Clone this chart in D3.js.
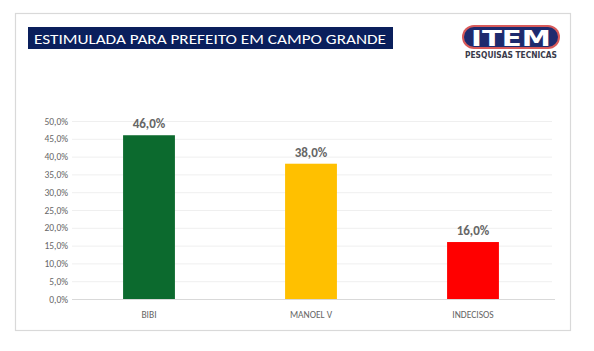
<!DOCTYPE html>
<html>
<head>
<meta charset="utf-8">
<script src="https://cdn.jsdelivr.net/npm/d3@7"></script>
<style>
  html, body { margin: 0; padding: 0; background: #fff; }
  svg { display: block; font-family: Calibri, Carlito, "Open Sans", sans-serif; }
</style>
</head>
<body>
<div id="chart"></div>
<script>
// Dados do gráfico
const categories = ['BIBI', 'MANOEL V', 'INDECISOS'];
const values     = [46.0, 38.0, 16.0];
const barColors  = ['#0c6a2e', '#ffc000', '#ff0000'];
const yTicks     = [0, 5, 10, 15, 20, 25, 30, 35, 40, 45, 50];
const title      = 'ESTIMULADA PARA PREFEITO EM CAMPO GRANDE';

const W = 594, H = 351;
const fmt = v => d3.format('.1f')(v).replace('.', ',') + '%';

const svg = d3.select('#chart').append('svg')
    .attr('width', W).attr('height', H);

// moldura
svg.append('rect')
    .attr('x', 15.5).attr('y', 13.5).attr('width', 555).attr('height', 317)
    .attr('fill', '#fff').attr('stroke', '#d9d9d9').attr('stroke-width', 1.2);

// título
svg.append('rect')
    .attr('x', 28).attr('y', 27).attr('width', 365).attr('height', 22)
    .attr('fill', '#0a1f5c');
svg.append('text')
    .attr('x', 34).attr('y', 43.5)
    .attr('fill', '#fff').attr('font-size', 15)
    .attr('textLength', 352).attr('lengthAdjust', 'spacingAndGlyphs')
    .text(title);

// logo ITEM
const logo = svg.append('g').attr('transform', 'translate(462,25)');
logo.append('rect')
    .attr('x', 0).attr('y', 0).attr('width', 98).attr('height', 24).attr('rx', 12)
    .attr('fill', '#d85a5a');
logo.append('rect')
    .attr('x', 2).attr('y', 2).attr('width', 94).attr('height', 20).attr('rx', 10)
    .attr('fill', '#1e2a6e');
logo.append('text')
    .attr('x', 49).attr('y', 20.5)
    .attr('text-anchor', 'middle').attr('fill', '#fff')
    .attr('font-family', '"DejaVu Sans", sans-serif').attr('font-weight', 'bold')
    .attr('font-size', 22).attr('textLength', 80).attr('lengthAdjust', 'spacingAndGlyphs')
    .text('ITEM');
logo.append('text')
    .attr('x', 49).attr('y', 33)
    .attr('text-anchor', 'middle').attr('fill', '#3a3a4a')
    .attr('font-family', '"DejaVu Sans Condensed", "DejaVu Sans", sans-serif').attr('font-weight', 'bold')
    .attr('font-size', 8.5).attr('textLength', 92).attr('lengthAdjust', 'spacingAndGlyphs')
    .text('PESQUISAS TECNICAS');

// escalas
const x = d3.scaleBand().domain(categories).range([68, 554]).paddingInner(0.68).paddingOuter(0.34);
const y = d3.scaleLinear().domain([0, 50]).range([299, 121]);

// grade
svg.append('g')
    .selectAll('line').data(yTicks.slice(1)).join('line')
    .attr('x1', 72).attr('x2', 552)
    .attr('y1', d => y(d) + 0.5).attr('y2', d => y(d) + 0.5)
    .attr('stroke', '#efefef').attr('stroke-width', 1);

// eixo y
const yAxis = svg.append('g')
    .attr('transform', 'translate(68,0)')
    .call(d3.axisLeft(y).tickValues(yTicks).tickFormat(fmt).tickSize(0).tickPadding(0));
yAxis.select('.domain').remove();
yAxis.selectAll('text')
    .attr('fill', '#666').attr('font-size', 9.5)
    .attr('font-family', 'Calibri, Carlito, "Open Sans", sans-serif');

// barras
svg.append('g')
    .selectAll('rect').data(values).join('rect')
    .attr('x', (d, i) => x(categories[i]))
    .attr('y', d => y(d))
    .attr('width', x.bandwidth())
    .attr('height', d => y(0) - y(d))
    .attr('fill', (d, i) => barColors[i]);

// linha base
svg.append('line')
    .attr('x1', 72).attr('x2', 555)
    .attr('y1', y(0) + 0.5).attr('y2', y(0) + 0.5)
    .attr('stroke', '#d9d9d9').attr('stroke-width', 1);

// rótulos de valor
svg.append('g')
    .selectAll('text').data(values).join('text')
    .attr('x', (d, i) => x(categories[i]) + x.bandwidth() / 2)
    .attr('y', d => y(d) - 7)
    .attr('text-anchor', 'middle')
    .attr('fill', '#666').attr('font-size', 13).attr('font-weight', 600)
    .text(fmt);

// eixo x
const xAxis = svg.append('g')
    .attr('transform', `translate(0,${y(0)})`)
    .call(d3.axisBottom(x).tickSize(0).tickPadding(12));
xAxis.select('.domain').remove();
xAxis.selectAll('text')
    .attr('fill', '#666').attr('font-size', 9.5)
    .attr('font-family', 'Calibri, Carlito, "Open Sans", sans-serif');
</script>
</body>
</html>
